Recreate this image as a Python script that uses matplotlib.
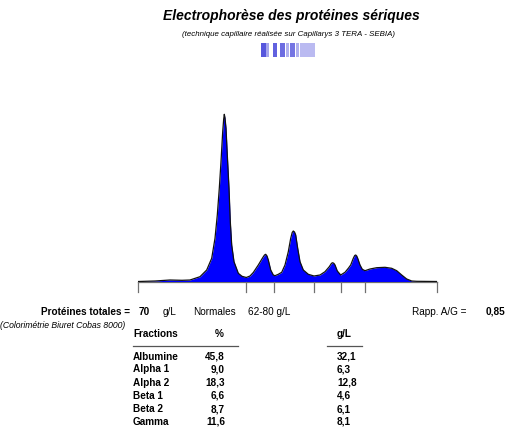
import matplotlib
matplotlib.use("Agg")
import matplotlib.pyplot as plt
from matplotlib.patches import Rectangle

# ---- data ----
# densitometric trace: position and signal
trace_pos = [138.3, 155, 170, 182, 190, 200, 206.7, 211.7, 215, 217.3, 219.3, 221,
             222.7, 223.7, 224.3, 225, 226, 227.3, 229, 230.3, 231.7, 234, 238.3,
             242, 246.3, 250, 253.3, 258.3, 262.7, 264.5, 265.7, 267, 268.3, 270.7,
             273.3, 275, 278.3, 281.7, 285, 288.3, 290.7, 292.2, 293.3, 294.5, 295.7,
             297.7, 300, 303.3, 308.3, 314, 320, 325, 329.3, 331.5, 332.7, 334, 335,
             337.3, 340.7, 345, 348.3, 350.7, 353.3, 354.7, 355.7, 356.7, 357.7, 360,
             362.3, 365, 370, 376.7, 385, 391.7, 396.7, 401.7, 406.7, 411.7, 416.7,
             437.3]
trace_sig = [0, 0.5, 1.5, 1.2, 1.5, 4.8, 11.5, 23.2, 43.2, 66.5, 93.2, 119.8,
             149.8, 162.5, 167.2, 163.5, 153.2, 126.5, 93.2, 59.8, 36.5, 19.8, 8.2,
             5.2, 4.0, 5.5, 9.0, 16.5, 23.8, 26.5, 27.2, 25.5, 21.5, 11.5,
             6.5, 5.8, 7.2, 9.2, 16.5, 29.8, 43.2, 49.0, 50.5, 49.5, 46.5,
             33.2, 19.8, 11.5, 7.2, 5.5, 6.5, 9.8, 14.8, 18.2, 18.8, 18.0, 16.5,
             10.5, 6.5, 9.2, 13.2, 16.5, 23.2, 26.0, 26.5, 25.5, 23.2, 16.5,
             12.2, 10.8, 12.5, 13.8, 14.2, 13.2, 10.8, 6.5, 2.5, 0.5, 0.2,
             0]
fraction_bounds = [138.3, 246, 274, 314, 341, 365.3, 437.3]

fractions = ["Albumine", "Alpha 1", "Alpha 2", "Beta 1", "Beta 2", "Gamma"]
pct = ["45,8", "9,0", "18,3", "6,6", "8,7", "11,6"]
gl = ["32,1", "6,3", "12,8", "4,6", "6,1", "8,1"]

total_protein = "70"
normal_range = "62-80 g/L"
ag_ratio = "0,85"

W, H = 515, 432
fig = plt.figure(figsize=(W / 100, H / 100), dpi=100)
fig.patch.set_facecolor("white")
FONT = ["Liberation Sans", "DejaVu Sans"]

def fx(x):
    return x / W

def fy(y):
    return 1 - y / H

# ---- trace axes ----
ax_l, ax_r = 138.3, 437.3
ax_b, ax_t = 281.5, 100.0
ax = fig.add_axes([fx(ax_l), fy(ax_b), fx(ax_r) - fx(ax_l), fy(ax_t) - fy(ax_b)])
ax.set_xlim(ax_l, ax_r)
ax.set_ylim(0, ax_b - ax_t)
ax.axis("off")
ax.fill_between(trace_pos, trace_sig, 0, color="#0000ff", linewidth=0, zorder=2)
ax.plot(trace_pos, trace_sig, color="#111111", lw=0.9, zorder=3,
        solid_joinstyle="round")
ax.plot([ax_l, ax_r], [0, 0], color="#707070", lw=0.9, zorder=1, clip_on=False)
for b in fraction_bounds:
    ax.plot([b, b], [0, -10], color="#707070", lw=0.9, clip_on=False)

# ---- titles ----
fig.text(fx(291.7), fy(16), "Electrophorèse des protéines sériques",
         ha="center", va="center", fontsize=10, fontweight="bold",
         fontstyle="italic", family=FONT)
fig.text(fx(288), fy(34), "(technique capillaire réalisée sur Capillarys 3 TERA - SEBIA)",
         ha="center", va="center", fontsize=5.7, fontstyle="italic", family=FONT)

# blurred redaction bands
bands = [(261, 5, 0.85), (266, 3, 0.45), (273, 4, 0.8), (280, 5, 0.75),
         (286, 3, 0.4), (290, 5, 0.7), (296, 3, 0.4), (300, 15, 0.35)]
for x0, w, a in bands:
    fig.patches.append(Rectangle((fx(x0), fy(57)), fx(w), fy(43) - fy(57),
                                 transform=fig.transFigure, color="#3a3ad8",
                                 alpha=a, lw=0))

# ---- summary line ----
fs = 7.2
kw = dict(va="center", fontsize=fs, family=FONT)
fig.text(fx(130), fy(312), "Protéines totales =", ha="right", fontweight="bold", **kw)
fig.text(fx(139), fy(312), total_protein, ha="left", fontweight="bold", **kw)
fig.text(fx(163), fy(312), "g/L", ha="left", **kw)
fig.text(fx(193), fy(312), "Normales", ha="left", **kw)
fig.text(fx(248), fy(312), normal_range, ha="left", **kw)
fig.text(fx(412), fy(312), "Rapp. A/G =", ha="left", **kw)
fig.text(fx(505), fy(312), ag_ratio, ha="right", fontweight="bold", **kw)
fig.text(fx(125), fy(325), "(Colorimétrie Biuret Cobas 8000)", ha="right",
         va="center", fontsize=6.2, fontstyle="italic", family=FONT)

# ---- table ----
fig.text(fx(133), fy(334), "Fractions", ha="left", fontweight="bold", **kw)
fig.text(fx(224), fy(334), "%", ha="right", fontweight="bold", **kw)
fig.text(fx(337), fy(334), "g/L", ha="left", fontweight="bold", **kw)
fig.add_artist(plt.Line2D([fx(133), fx(238)], [fy(346), fy(346)], color="#555555", lw=0.9))
fig.add_artist(plt.Line2D([fx(327), fx(362)], [fy(346), fy(346)], color="#555555", lw=0.9))

row_y = [356.7, 369.3, 382.7, 396, 409.3, 421.7]
for name, p, g, y in zip(fractions, pct, gl, row_y):
    fig.text(fx(133), fy(y), name, ha="left", fontweight="bold", **kw)
    fig.text(fx(225), fy(y), p, ha="right", fontweight="bold", **kw)
    fig.text(fx(337), fy(y), g, ha="left", fontweight="bold", **kw)

fig.savefig("out.png", dpi=100, facecolor="white")
